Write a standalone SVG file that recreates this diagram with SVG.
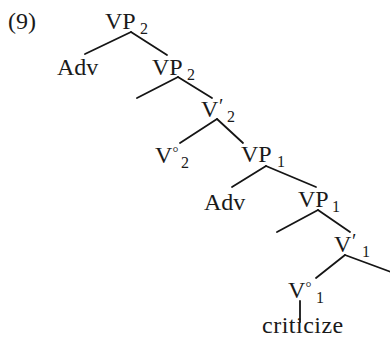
<svg xmlns="http://www.w3.org/2000/svg" width="390" height="345" viewBox="0 0 390 345">
<style>
.t{font-family:"Liberation Serif","Times New Roman",serif;font-size:24px;fill:#1a1a1a}
.s{font-size:16px}
.d{font-size:15px}
.p{font-size:20px}
.e{stroke:#151515;stroke-width:1.8;stroke-linecap:round;fill:none}
</style>
<rect width="390" height="345" fill="#ffffff"/>
<g id="label"><text class="t" x="8" y="29" font-size="21">(9)</text></g>
<g id="connectors">
<line class="e" x1="131" y1="32" x2="85" y2="54"/>
<line class="e" x1="131" y1="32" x2="167" y2="55"/>
<line class="e" x1="178" y1="77" x2="137" y2="98"/>
<line class="e" x1="178" y1="77" x2="212" y2="98"/>
<line class="e" x1="217" y1="119" x2="180" y2="143"/>
<line class="e" x1="217" y1="119" x2="243" y2="143"/>
<line class="e" x1="266" y1="166" x2="232" y2="187"/>
<line class="e" x1="266" y1="166" x2="316" y2="187"/>
<line class="e" x1="318" y1="210" x2="277" y2="232"/>
<line class="e" x1="318" y1="210" x2="350" y2="232"/>
<line class="e" x1="345" y1="255" x2="316" y2="278"/>
<line class="e" x1="345" y1="255" x2="391" y2="272"/>
<line class="e" x1="300" y1="301" x2="300" y2="322" stroke-width="1.2"/>
</g>
<g id="vp2-top"><text class="t" x="105" y="29">VP<tspan class="s" x="140" y="34">2</tspan></text></g>
<g id="adv-1"><text class="t" x="57" y="75">Adv</text></g>
<g id="vp2-low"><text class="t" x="152" y="75">VP<tspan class="s" x="187" y="80">2</tspan></text></g>
<g id="vbar2"><text class="t" x="201" y="117">V<tspan class="p" x="219" y="113">′</tspan><tspan class="s" x="227" y="122">2</tspan></text></g>
<g id="vzero2"><text class="t" x="155" y="163">V<tspan class="d" x="172.5" y="157">°</tspan><tspan class="s" x="181" y="168">2</tspan></text></g>
<g id="vp1-top"><text class="t" x="241" y="162">VP<tspan class="s" x="277" y="167">1</tspan></text></g>
<g id="adv-2"><text class="t" x="204" y="210">Adv</text></g>
<g id="vp1-low"><text class="t" x="298" y="207">VP<tspan class="s" x="332" y="212">1</tspan></text></g>
<g id="vbar1"><text class="t" x="334" y="252">V<tspan class="p" x="352" y="248">′</tspan><tspan class="s" x="362" y="257">1</tspan></text></g>
<g id="vzero1"><text class="t" x="288" y="298">V<tspan class="d" x="305.5" y="292">°</tspan><tspan class="s" x="316" y="303">1</tspan></text></g>
<g id="criticize"><text class="t" x="262" y="333" letter-spacing="0.5">criticize</text></g>
</svg>
